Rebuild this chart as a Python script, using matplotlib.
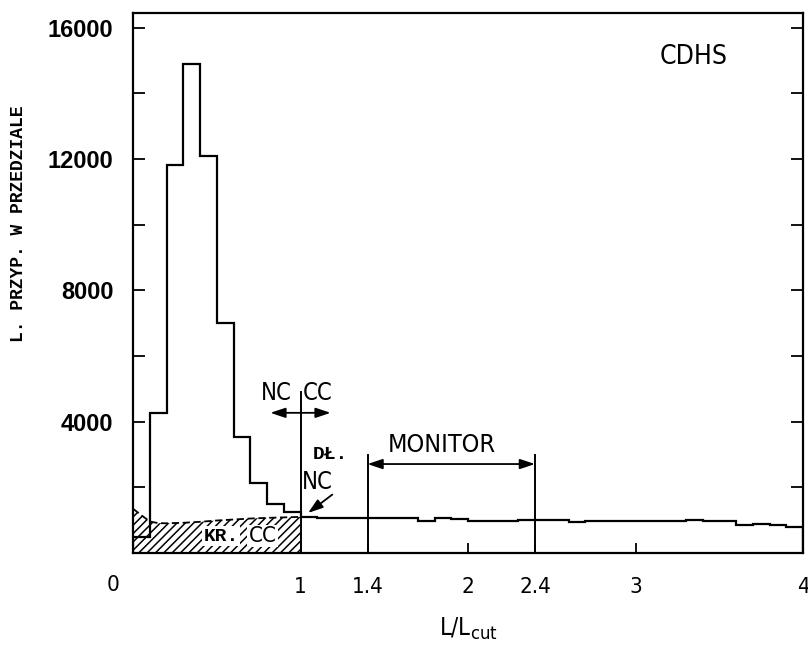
import numpy as np
import matplotlib.pyplot as plt
from matplotlib import font_manager

# --- data -------------------------------------------------------------
# event counts per 0.1 bin of L/L_cut
bin_edges = np.linspace(0.0, 4.0, 41)
counts = [490, 4270, 11830, 14910, 12100, 7010, 3540, 2130, 1490, 1250,
          1100, 1080, 1075, 1075, 1070, 1070, 1060, 960, 1055, 1030,
          985, 985, 990, 995, 1020, 1000, 930, 985, 985, 985,
          985, 980, 985, 1000, 960, 960, 860, 885, 855, 805]

# short CC events under the NC peak (hatched)
cc_x = [0.0, 0.05, 0.1, 0.15, 0.2, 0.3, 0.4, 0.5, 0.6, 0.7, 0.8, 0.9, 1.0]
cc_y = [1350, 1150, 960, 910, 905, 920, 950, 990, 1020, 1050, 1070, 1085, 1100]

x_ticks = [1, 1.4, 2, 2.4, 3, 4]
x_ticklabels = ['1', '1.4', '2', '2.4', '3', '4']
y_ticks = [4000, 8000, 12000, 16000]
y_minor = [2000, 6000, 10000, 14000]

nc_cc_cut = 1.0
monitor_lo, monitor_hi = 1.4, 2.4

# --- fonts ------------------------------------------------------------
installed = {f.name for f in font_manager.fontManager.ttflist}
narrow = 'Liberation Sans Narrow' if 'Liberation Sans Narrow' in installed else 'DejaVu Sans'
NARROW = dict(family=narrow, stretch='condensed')
MONO = dict(family='Liberation Mono', weight='bold')

plt.rcParams['mathtext.fontset'] = 'custom'
plt.rcParams['mathtext.rm'] = narrow
plt.rcParams['hatch.linewidth'] = 1.1

fig = plt.figure(figsize=(8.08, 6.46), dpi=100)
ax = fig.add_axes([133 / 808, 1 - 553 / 646, 670 / 808, 540 / 646])

# histogram outline
ax.stairs(counts, bin_edges, baseline=0, color='black', linewidth=1.6)

# hatched short-CC region with dashed upper edge
ax.fill_between(cc_x, 0, cc_y, hatch='////', facecolor='none',
                edgecolor='black', linewidth=0)
ax.plot(cc_x, cc_y, color='black', linewidth=1.3, linestyle=(0, (4, 2)))

# NC / CC cut
ax.plot([nc_cc_cut, nc_cc_cut], [0, 4900], color='black', linewidth=1.4)
ax.annotate('', xy=(0.82, 4270), xytext=(1.18, 4270),
            arrowprops=dict(arrowstyle='<|-|>,head_length=0.9,head_width=0.3',
                            color='black', lw=1.3, shrinkA=0, shrinkB=0))
ax.text(0.855, 4880, 'NC', ha='center', va='center', fontsize=17, **NARROW)
ax.text(1.10, 4880, 'CC', ha='center', va='center', fontsize=17, **NARROW)

# long NC arrow
ax.text(1.18, 2990, 'DŁ.', ha='center', va='center', fontsize=14, **MONO)
ax.text(1.10, 2165, 'NC', ha='center', va='center', fontsize=17, **NARROW)
ax.annotate('', xy=(1.045, 1220), xytext=(1.19, 1780),
            arrowprops=dict(arrowstyle='-|>,head_length=0.9,head_width=0.3',
                            color='black', lw=1.3, shrinkA=0, shrinkB=0))

# monitor region
for xm in (monitor_lo, monitor_hi):
    ax.plot([xm, xm], [0, 3000], color='black', linewidth=1.4)
ax.annotate('', xy=(monitor_lo, 2710), xytext=(monitor_hi, 2710),
            arrowprops=dict(arrowstyle='<|-|>,head_length=0.9,head_width=0.3',
                            color='black', lw=1.3, shrinkA=0, shrinkB=0))
ax.text(1.845, 3290, 'MONITOR', ha='center', va='center', fontsize=18, **NARROW)

# short CC label
box = dict(facecolor='white', edgecolor='none', pad=1.0)
ax.text(0.525, 510, 'KR.', ha='center', va='center', fontsize=14, bbox=box, **MONO)
ax.text(0.775, 520, 'CC', ha='center', va='center', fontsize=16, bbox=box, **NARROW)

ax.text(3.345, 15120, 'CDHS', ha='center', va='center', fontsize=19, **NARROW)

# --- axes -------------------------------------------------------------
ax.set_xlim(0, 4)
ax.set_ylim(0, 16450)
for s in ax.spines.values():
    s.set_linewidth(1.6)

ax.set_xticks(x_ticks)
ax.set_xticklabels(x_ticklabels, fontsize=16, **NARROW)
ax.set_yticks(y_ticks)
ax.set_yticklabels([str(v) for v in y_ticks], fontsize=17,
                   family='Liberation Sans', weight='bold')
ax.set_yticks(y_minor, minor=True)
ax.tick_params(axis='x', direction='in', length=7, width=1.3, pad=17)
ax.tick_params(axis='y', which='both', direction='in', length=8.5, width=1.3,
               right=True, pad=14)

fig.text(113 / 808, 1 - 585 / 646, '0', ha='center', va='center', fontsize=16, **NARROW)
ax.set_xlabel(r'L/L$_{\mathrm{cut}}$', fontsize=17, labelpad=14, **NARROW)
fig.text(19 / 808, 1 - 224 / 646, 'L. PRZYP. W PRZEDZIALE', rotation=90,
         ha='center', va='center', fontsize=13, **MONO)

fig.savefig('out.png', dpi=100)
